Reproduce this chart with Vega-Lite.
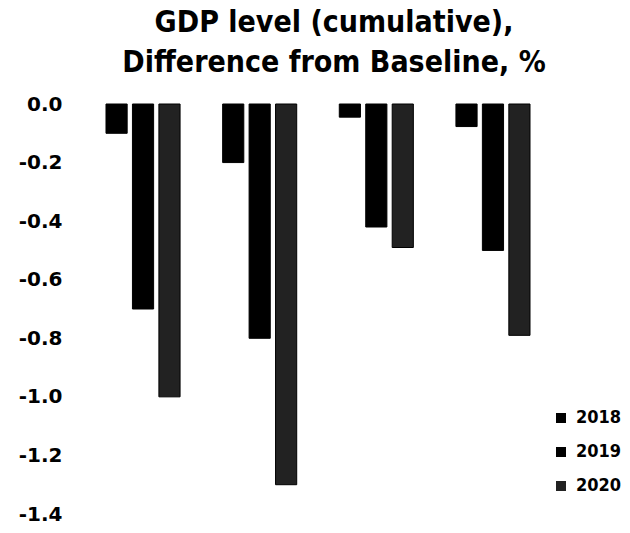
{
  "$schema": "https://vega.github.io/schema/vega-lite/v6.json",
  "width": 466,
  "height": 410,
  "autosize": {"type": "none"},
  "padding": {"left": 85, "top": 104, "right": 79, "bottom": 19},
  "background": "white",
  "title": {
    "text": ["GDP level (cumulative),", "Difference from Baseline, %"],
    "font": "DejaVu Sans Condensed",
    "fontSize": 30,
    "fontWeight": "bold",
    "color": "black",
    "anchor": "middle",
    "dx": 16,
    "offset": 16,
    "lineHeight": 40
  },
  "data": {
    "values": [
      {"group": "A", "year": "2018", "value": -0.1},
      {"group": "A", "year": "2019", "value": -0.7},
      {"group": "A", "year": "2020", "value": -1.0},
      {"group": "B", "year": "2018", "value": -0.2},
      {"group": "B", "year": "2019", "value": -0.8},
      {"group": "B", "year": "2020", "value": -1.3},
      {"group": "C", "year": "2018", "value": -0.045},
      {"group": "C", "year": "2019", "value": -0.42},
      {"group": "C", "year": "2020", "value": -0.49},
      {"group": "D", "year": "2018", "value": -0.077},
      {"group": "D", "year": "2019", "value": -0.5},
      {"group": "D", "year": "2020", "value": -0.79}
    ]
  },
  "mark": {"type": "bar", "stroke": "black", "strokeWidth": 1},
  "encoding": {
    "x": {
      "field": "group",
      "type": "nominal",
      "axis": null,
      "scale": {"paddingInner": 0.365, "paddingOuter": 0.18}
    },
    "xOffset": {
      "field": "year",
      "type": "nominal",
      "scale": {"paddingInner": 0.2, "paddingOuter": 0}
    },
    "y": {
      "field": "value",
      "type": "quantitative",
      "scale": {"domain": [-1.4, 0], "nice": false, "zero": false},
      "axis": {
        "title": null,
        "values": [0, -0.2, -0.4, -0.6, -0.8, -1.0, -1.2, -1.4],
        "labelExpr": "datum.value < 0 ? '-' + format(-datum.value, '.1f') : format(datum.value, '.1f')",
        "domain": false,
        "ticks": false,
        "grid": false,
        "labelFont": "DejaVu Sans",
        "labelFontWeight": "bold",
        "labelFontSize": 20,
        "labelColor": "black",
        "labelPadding": 23,
        "labelBaseline": "middle"
      }
    },
    "color": {
      "field": "year",
      "type": "nominal",
      "scale": {"domain": ["2018", "2019", "2020"], "range": ["#000000", "#000000", "#222222"]},
      "legend": {
        "title": null,
        "orient": "none",
        "legendX": 467,
        "legendY": 305,
        "padding": 0,
        "symbolType": "square",
        "symbolSize": 100,
        "symbolStrokeWidth": 0,
        "labelFont": "DejaVu Sans Condensed",
        "labelFontWeight": "bold",
        "labelFontSize": 18,
        "labelColor": "black",
        "labelOffset": 6,
        "rowPadding": 16
      }
    }
  },
  "config": {"view": {"stroke": null}}
}
